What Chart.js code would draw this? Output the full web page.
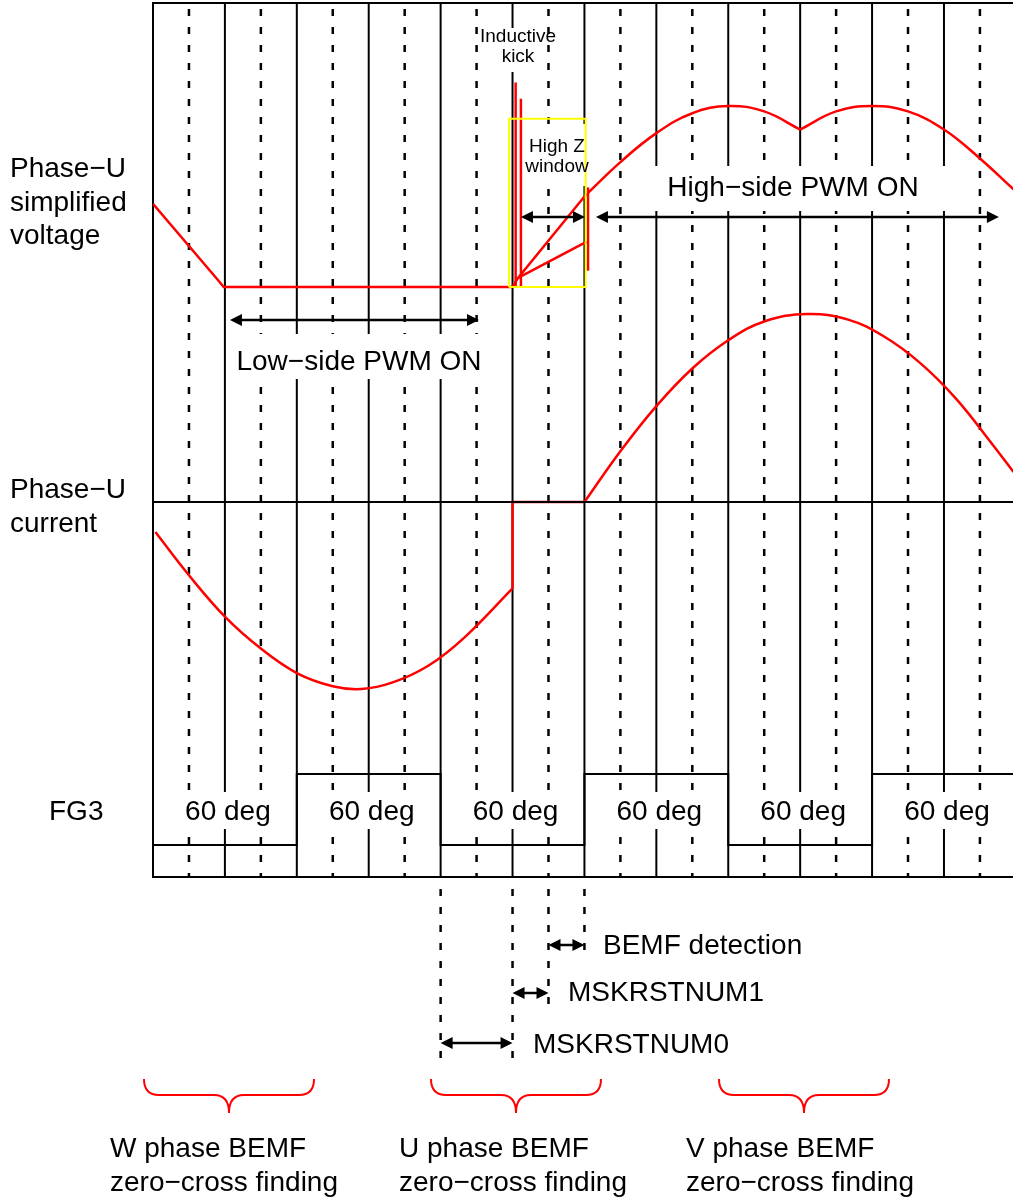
<!DOCTYPE html>
<html>
<head>
<meta charset="utf-8">
<script src="https://cdn.jsdelivr.net/npm/chart.js@4.4.0/dist/chart.umd.min.js"></script>
<style>
  html, body { margin: 0; padding: 0; background: #fff; }
  canvas { display: block; }
</style>
</head>
<body>
<canvas id="c" width="1013" height="1201"></canvas>
<script>
// electrical angle in degrees along x
var solidDeg = [0, 30, 60, 90, 120, 150, 180, 210, 240, 270, 300, 330];
var dashedDeg = [15, 45, 75, 105, 135, 165, 195, 225, 255, 285, 315, 345];

// phase-U simplified voltage (1 = peak)
var vLowDeg = [0, 27, 29.5, 150, 152.3, 180];
var vLowVal = [0.46, 0.04, 0, 0, 0.05, 0.5];
var vHigh1Deg = [180, 195, 210, 225, 240, 255, 270];
var vHigh1Val = [0.5, 0.69, 0.85, 0.96, 1.0, 0.97, 0.87];
var vHigh2Deg = [270, 285, 300, 315, 330, 345, 359];
var vHigh2Val = [0.87, 0.97, 1.0, 0.97, 0.87, 0.71, 0.54];
var vSlowDeg = [152.3, 181];
var vSlowVal = [0.05, 0.25];
var kick1Deg = [151.3, 151.3];
var kick1Val = [0, 1.13];
var kick2Deg = [153.5, 153.5];
var kick2Val = [0, 1.04];
var detectDeg = [181.5, 181.5];
var detectVal = [0.09, 0.55];
var hiZDeg = [148.5, 148.5, 180.5, 180.5, 148.5];
var hiZVal = [0, 0.93, 0.93, 0, 0];

// phase-U current (1 = peak)
var iNegDeg = [1, 15, 30, 45, 60, 75, 87, 100, 115, 130, 150];
var iNegVal = [-0.16, -0.39, -0.61, -0.78, -0.91, -0.98, -0.995, -0.96, -0.87, -0.72, -0.46];
var iOffDeg = [150, 150, 180];
var iOffVal = [-0.46, 0, 0];
var iPosDeg = [180, 195, 210, 225, 240, 255, 273, 290, 305, 320, 335, 350, 359];
var iPosVal = [0, 0.27, 0.51, 0.71, 0.86, 0.96, 1.0, 0.97, 0.88, 0.74, 0.55, 0.31, 0.16];
var axisDeg = [0, 359];
var axisVal = [0, 0];

// FG3 logic level
var fgDeg = [0, 60, 120, 180, 240, 300, 359];
var fgVal = [0, 1, 0, 1, 0, 1, 1];
var fgLabels = ["60 deg", "60 deg", "60 deg", "60 deg", "60 deg", "60 deg"];
var fgMidDeg = [30, 90, 150, 210, 270, 330];

function pts(xs, ys) {
  return xs.map(function (x, i) { return { x: x, y: ys[i] }; });
}

function trace(xs, ys, axis, color, extra) {
  var ds = {
    data: pts(xs, ys),
    yAxisID: axis,
    borderColor: color,
    borderWidth: 2.5,
    pointRadius: 0,
    fill: false,
    tension: 0
  };
  for (var k in extra) ds[k] = extra[k];
  return ds;
}

var RED = "#ff0000";
var BIG = '28px "Liberation Sans", Arial, sans-serif';
var SMALL = '19px "Liberation Sans", Arial, sans-serif';

function seg(ctx, x1, y1, x2, y2) {
  ctx.beginPath();
  ctx.moveTo(x1, y1);
  ctx.lineTo(x2, y2);
  ctx.stroke();
}

function arrow(ctx, x1, x2, y) {
  var L = 12, W = 6;
  ctx.strokeStyle = "#000";
  ctx.fillStyle = "#000";
  ctx.lineWidth = 2.5;
  seg(ctx, x1 + 4, y, x2 - 4, y);
  ctx.beginPath();
  ctx.moveTo(x1, y); ctx.lineTo(x1 + L, y - W); ctx.lineTo(x1 + L, y + W); ctx.closePath();
  ctx.fill();
  ctx.beginPath();
  ctx.moveTo(x2, y); ctx.lineTo(x2 - L, y - W); ctx.lineTo(x2 - L, y + W); ctx.closePath();
  ctx.fill();
}

function brace(ctx, xl, xr, yTop, yMid, yTip) {
  var xc = (xl + xr) / 2, r = 15;
  ctx.strokeStyle = RED;
  ctx.lineWidth = 2;
  ctx.beginPath();
  ctx.moveTo(xl, yTop);
  ctx.quadraticCurveTo(xl, yMid, xl + r, yMid);
  ctx.lineTo(xc - r, yMid);
  ctx.quadraticCurveTo(xc, yMid, xc, yTip);
  ctx.quadraticCurveTo(xc, yMid, xc + r, yMid);
  ctx.lineTo(xr - r, yMid);
  ctx.quadraticCurveTo(xr, yMid, xr, yTop);
  ctx.stroke();
}

function text(ctx, s, x, y, align, font) {
  ctx.font = font || BIG;
  ctx.textAlign = align || "left";
  ctx.textBaseline = "alphabetic";
  ctx.fillStyle = "#000";
  ctx.fillText(s, x, y);
}

var sketch = {
  id: "sketch",
  beforeDatasetsDraw: function (chart) {
    var ctx = chart.ctx, a = chart.chartArea, x = chart.scales.x;
    ctx.save();
    ctx.strokeStyle = "#000";
    ctx.lineWidth = 2;
    solidDeg.forEach(function (d) {
      var px = x.getPixelForValue(d);
      seg(ctx, px, a.top, px, a.bottom);
    });
    seg(ctx, a.left - 1, a.top, a.right, a.top);
    seg(ctx, a.left - 1, a.bottom, a.right, a.bottom);

    ctx.lineWidth = 2.5;
    ctx.setLineDash([7, 11]);
    dashedDeg.forEach(function (d) {
      var px = x.getPixelForValue(d);
      seg(ctx, px, a.top + 6, px, a.bottom);
    });
    // markers carried below the plot
    [[120, 1062], [150, 1062], [165, 1012], [180, 960]].forEach(function (m) {
      var px = x.getPixelForValue(m[0]);
      seg(ctx, px, a.bottom + 12, px, m[1]);
    });
    ctx.setLineDash([]);

    // white backing behind labels
    ctx.fillStyle = "#fff";
    ctx.fillRect(497, 28, 41, 44);
    ctx.fillRect(524, 124, 68, 62);
    ctx.fillRect(648, 166, 308, 45);
    ctx.fillRect(232, 334, 257, 45);
    ctx.font = BIG;
    fgMidDeg.forEach(function (d, i) {
      var w = ctx.measureText(fgLabels[i]).width + 14;
      var cx = x.getPixelForValue(d) + 3;
      ctx.fillRect(cx - w / 2, 792, w, 37);
    });
    ctx.restore();
  },
  afterDatasetsDraw: function (chart) {
    var ctx = chart.ctx, x = chart.scales.x;
    ctx.save();
    text(ctx, "Phase\u2212U", 10, 177);
    text(ctx, "simplified", 10, 211);
    text(ctx, "voltage", 10, 244);
    text(ctx, "Phase\u2212U", 10, 498);
    text(ctx, "current", 10, 532);
    text(ctx, "FG3", 49, 820);

    text(ctx, "Inductive", 518, 42, "center", SMALL);
    text(ctx, "kick", 518, 62, "center", SMALL);
    text(ctx, "High Z", 557, 152, "center", SMALL);
    text(ctx, "window", 557, 172, "center", SMALL);
    text(ctx, "High\u2212side PWM ON", 793, 196, "center");
    text(ctx, "Low\u2212side PWM ON", 359, 370, "center");

    fgMidDeg.forEach(function (d, i) {
      text(ctx, fgLabels[i], x.getPixelForValue(d) + 3, 820, "center");
    });

    arrow(ctx, x.getPixelForValue(32.1), x.getPixelForValue(136), 320);
    arrow(ctx, x.getPixelForValue(153.5), x.getPixelForValue(180.2), 217);
    arrow(ctx, x.getPixelForValue(184.8), x.getPixelForValue(352.9), 217);
    arrow(ctx, x.getPixelForValue(165), x.getPixelForValue(180), 945);
    arrow(ctx, x.getPixelForValue(150), x.getPixelForValue(165), 993);
    arrow(ctx, x.getPixelForValue(120), x.getPixelForValue(150), 1043);

    text(ctx, "BEMF detection", 603, 954);
    text(ctx, "MSKRSTNUM1", 568, 1001);
    text(ctx, "MSKRSTNUM0", 533, 1053);

    brace(ctx, 144, 314, 1079, 1095, 1113);
    brace(ctx, 431, 601, 1079, 1095, 1113);
    brace(ctx, 719, 889, 1079, 1095, 1113);

    text(ctx, "W phase BEMF", 110, 1157);
    text(ctx, "zero\u2212cross finding", 110, 1191);
    text(ctx, "U phase BEMF", 399, 1157);
    text(ctx, "zero\u2212cross finding", 399, 1191);
    text(ctx, "V phase BEMF", 686, 1157);
    text(ctx, "zero\u2212cross finding", 686, 1191);
    ctx.restore();
  }
};

var smooth = { tension: 0.4 };

new Chart(document.getElementById("c"), {
  type: "line",
  data: {
    datasets: [
      trace(axisDeg, axisVal, "yI", "#000", { borderWidth: 2 }),
      trace(fgDeg, fgVal, "yFG", "#000", { borderWidth: 2, stepped: true }),
      trace(hiZDeg, hiZVal, "yV", "#ffff00", { borderWidth: 2 }),
      trace(vLowDeg, vLowVal, "yV", RED),
      trace(vHigh1Deg, vHigh1Val, "yV", RED, smooth),
      trace(vHigh2Deg, vHigh2Val, "yV", RED, smooth),
      trace(vSlowDeg, vSlowVal, "yV", RED),
      trace(kick1Deg, kick1Val, "yV", RED),
      trace(kick2Deg, kick2Val, "yV", RED),
      trace(detectDeg, detectVal, "yV", RED),
      trace(iNegDeg, iNegVal, "yI", RED, smooth),
      trace(iOffDeg, iOffVal, "yI", RED),
      trace(iPosDeg, iPosVal, "yI", RED, smooth)
    ]
  },
  options: {
    responsive: false,
    devicePixelRatio: 1,
    animation: false,
    layout: { padding: { left: 153, top: 3, right: 0, bottom: 324 } },
    plugins: { legend: { display: false }, tooltip: { enabled: false } },
    scales: {
      x: { type: "linear", min: 0, max: 358.8, display: false },
      yV: { type: "linear", min: -3.26, max: 1.569, display: false },
      yI: { type: "linear", min: -1.995, max: 2.654, display: false },
      yFG: { type: "linear", min: -0.451, max: 11.859, display: false }
    }
  },
  plugins: [sketch]
});
</script>
</body>
</html>
